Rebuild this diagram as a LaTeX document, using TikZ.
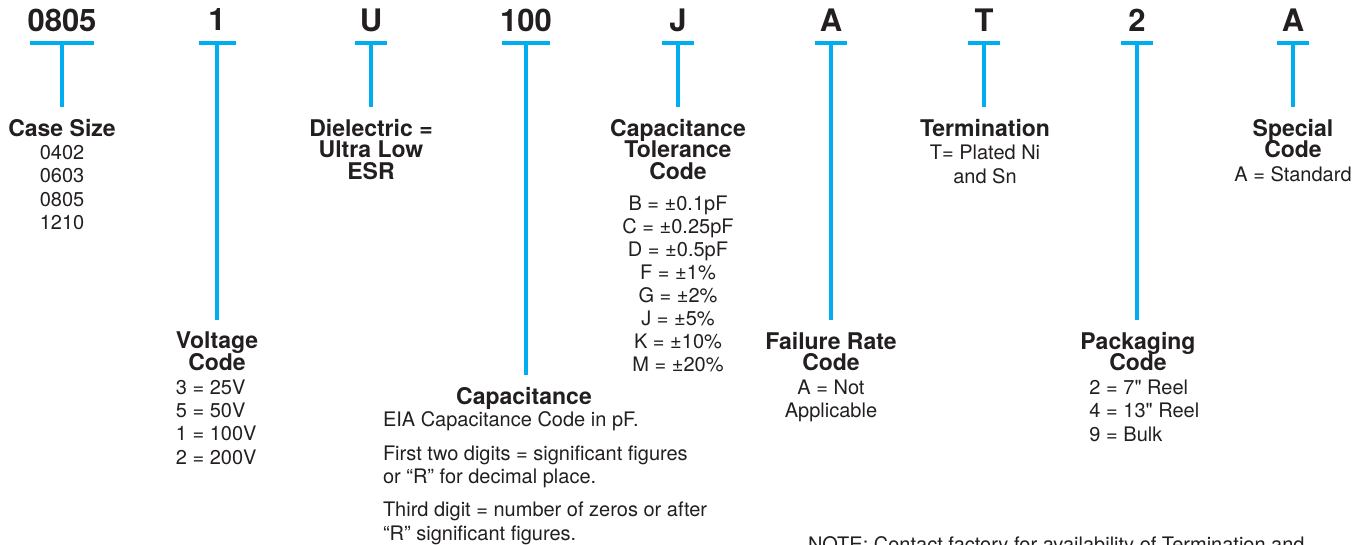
\documentclass[tikz,border=0pt]{standalone}
\usepackage{fontspec}
\setmainfont{TeX Gyre Heros}
\newfontfamily\inchfont[Ligatures=TeXOff]{TeX Gyre Heros}
\usepackage{tikz}
\usetikzlibrary{positioning}
\definecolor{partcyan}{HTML}{00AEEF}
\definecolor{inkdark}{HTML}{231F20}
\newcommand{\tightlines}{\setlength{\lineskiplimit}{-20pt}\setlength{\lineskip}{0pt}}
\newcommand{\inch}{{\inchfont"}}

\begin{document}
\begin{tikzpicture}[
      x=1pt,
      y=-1pt,
      every node/.style={
         inner sep=0pt,
         outer sep=0pt,
         text=inkdark
      },
      code/.style={anchor=north, font=\fontsize{31}{31}\selectfont\bfseries},
      head/.style={anchor=north, align=center,
         font=\fontsize{23}{21.5}\selectfont\bfseries\tightlines},
      body/.style={anchor=north, align=center,
         font=\fontsize{20}{23.3}\selectfont\tightlines},
      bar/.style={draw=partcyan, line width=3.8pt},
      stem/.style={draw=partcyan, line width=3.5pt, shorten >=12pt}
   ]

      \useasboundingbox (0,0) rectangle (1364,544);

      % part number fields
      \foreach \x/\txt/\w/\n in {62/0805/32/a, 217/1/18.5/b, 371/U/16/c,
            526/100/24/d, 678/J/16/e, 831/A/16/f, 984/T/16/g,
            1137/2/16/h, 1293/A/16/i} {
         \node[code] (code\n) at (\x,9) {\txt};
         \coordinate (bar\n) at (\x,43);
         \draw[bar] ([xshift=-\w pt]bar\n) -- ([xshift=\w pt]bar\n);
      }

      \node[head] (hA) at (62,119) {Case Size};
      \node[body, below=9pt of hA, font=\fontsize{20}{23.3}\selectfont] (lA)
         {0402\\0603\\0805\\1210};

      \node[head] (hC) at (371,119) {Dielectric =\\Ultra Low\\ESR};

      \node[head] (hE) at (678,119) {Capacitance\\Tolerance\\Code};
      \node[body, below=17pt of hE, font=\fontsize{20}{23}\selectfont\tightlines] (lE)
         {B = ±0.1pF\\C = ±0.25pF\\D = ±0.5pF\\F = ±1\%\\G = ±2\%\\J = ±5\%\\K = ±10\%\\M = ±20\%};

      \node[head] (hG) at (985,119) {Termination};
      \node[body, below=9pt of hG] (lG) {T= Plated Ni\\and Sn};

      \node[head] (hI) at (1293,119) {Special\\Code};
      \node[body, below=9pt of hI] (lI) {A = Standard};

      \node[head] (hB) at (217,332) {Voltage\\Code};
      \node[body, align=left, below=9pt of hB.south west, anchor=north west] (lB)
         {3 = 25V\\5 = 50V\\1 = 100V\\2 = 200V};

      \node[head] (hF) at (831,332) {Failure Rate\\Code};
      \node[body, below=9pt of hF] (lF) {A = Not\\Applicable};

      \node[head] (hH) at (1138,332) {Packaging\\Code};
      \node[body, align=left, below=9pt of hH.south west, anchor=north west, xshift=9pt] (lH)
         {2 = 7\inch\ Reel\\4 = 13\inch\ Reel\\9 = Bulk};

      \node[head] (hD) at (524,387) {Capacitance};
      \node[body, align=left, anchor=north west] (lD) at (383,412)
         {EIA Capacitance Code in pF.\\[10pt]
          First two digits = significant figures\\
          or “R” for decimal place.\\[10pt]
          Third digit = number of zeros or after\\
          “R” significant figures.};

      \node[body, anchor=north west] (note) at (808,537)
         {NOTE: Contact factory for availability of Termination and};

      % stems
      \foreach \n/\h in {a/hA, b/hB, c/hC, d/hD, e/hE, f/hF, g/hG, h/hH, i/hI}
         \draw[stem] (bar\n) -- (bar\n |- \h.north);
   \end{tikzpicture}
\end{document}
